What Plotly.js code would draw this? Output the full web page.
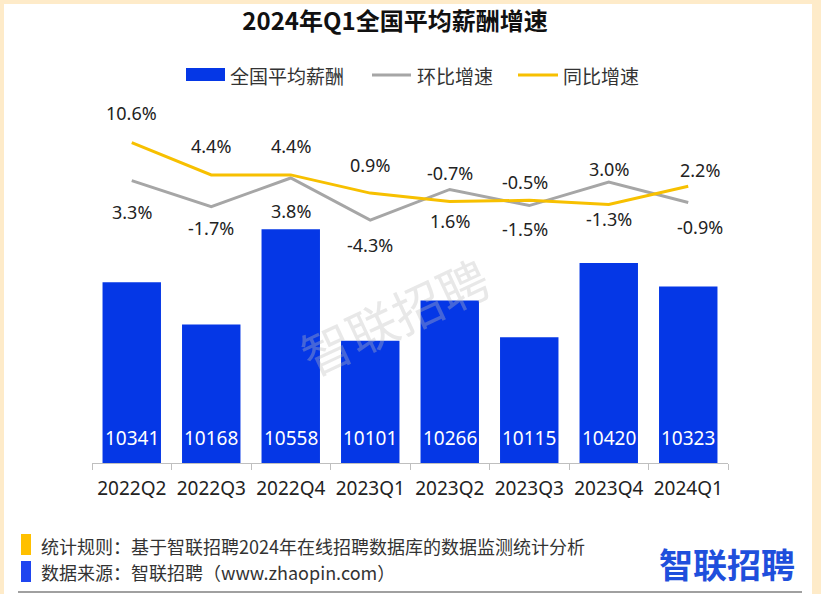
<!DOCTYPE html>
<html>
<head>
<meta charset="utf-8">
<script src="https://cdn.plot.ly/plotly-3.0.1.min.js"></script>
<style>
  html, body { margin:0; padding:0; width:821px; height:594px; overflow:hidden; background:#FEEBC9; }
  #bg { position:absolute; left:4px; top:4px; width:808px; height:590px; background:#ffffff; }
  #chart { position:absolute; left:0; top:0; width:821px; height:594px; }
</style>
</head>
<body>
<div id="bg"></div>
<div id="chart"></div>
<script>
// ---- data ----
const categories = ['2022Q2','2022Q3','2022Q4','2023Q1','2023Q2','2023Q3','2023Q4','2024Q1'];
const salary = [10341, 10168, 10558, 10101, 10266, 10115, 10420, 10323];
const qoq = [3.3, -1.7, 3.8, -4.3, 1.6, -1.5, 3.0, -0.9];   // 环比增速
const yoy = [10.6, 4.4, 4.4, 0.9, -0.7, -0.5, -1.3, 2.2];  // 同比增速

// ---- label placement (style config, pixels) ----
const yoyLabelShift = [30, 29, 29, 28, 28, 18, -14, 16];
const qoqLabelShift = [-31, -21, -33, -25, -32, -23, 13, -25];
const labelXShift = [0, 0, 0, 0, 0, -4, 0, 12];

const BLUE = '#0537E6', GRAY = '#A6A6A6', GOLD = '#F7C000';
const FONT = 'Noto Sans, Noto Sans CJK SC, sans-serif';
const CJK = 'Noto Sans CJK SC, sans-serif';

// plot area in page pixels
const L = 92, R = 728, T = 100, B = 463;
const xp = X => (X - L) / (R - L);
const yp = Y => (B - Y) / (B - T);

const barMin = 9600, barMax = 11088;
const lineMin = -51, lineMax = 18.8;

const traces = [
  { type:'bar', x:categories, y:salary, marker:{color:BLUE}, width:0.735,
    hoverinfo:'skip', name:'全国平均薪酬' },
  { type:'scatter', mode:'lines', x:categories, y:qoq, yaxis:'y2',
    line:{color:GRAY, width:3}, name:'环比增速', hoverinfo:'skip' },
  { type:'scatter', mode:'lines', x:categories, y:yoy, yaxis:'y2',
    line:{color:GOLD, width:3}, name:'同比增速', hoverinfo:'skip' }
];

const annotations = [];
categories.forEach((c, i) => {
  annotations.push({ x:c, y:barMin, xref:'x', yref:'y', text:String(salary[i]),
    showarrow:false, yshift:25, yanchor:'middle', font:{family:FONT, size:19, color:'#ffffff'} });
  annotations.push({ x:c, y:yoy[i], xref:'x', yref:'y2', text:yoy[i].toFixed(1)+'%',
    showarrow:false, yshift:yoyLabelShift[i], xshift:labelXShift[i], yanchor:'middle',
    font:{family:FONT, size:18, color:'#222'} });
  annotations.push({ x:c, y:qoq[i], xref:'x', yref:'y2', text:qoq[i].toFixed(1)+'%',
    showarrow:false, yshift:qoqLabelShift[i], xshift:labelXShift[i], yanchor:'middle',
    font:{family:FONT, size:18, color:'#222'} });
});

// legend texts
[['全国平均薪酬',228],['环比增速',415],['同比增速',561]].forEach(([t, X]) => {
  annotations.push({ xref:'paper', yref:'paper', x:xp(X), y:yp(75), xanchor:'left', yanchor:'middle',
    text:t, showarrow:false, font:{family:CJK, size:19, color:'#333'} });
});

// watermark
annotations.push({ xref:'paper', yref:'paper', x:xp(394), y:yp(315), text:'智联招聘', showarrow:false,
  textangle:-25, font:{family:CJK, size:50, color:'rgba(190,190,190,0.35)'} });

// footer
annotations.push({ xref:'paper', yref:'paper', x:xp(39), y:yp(546), xanchor:'left', yanchor:'middle',
  text:'统计规则：基于智联招聘2024年在线招聘数据库的数据监测统计分析', showarrow:false,
  font:{family:CJK, size:18, color:'#333'} });
annotations.push({ xref:'paper', yref:'paper', x:xp(39), y:yp(572), xanchor:'left', yanchor:'middle',
  text:'数据来源：智联招聘（www.zhaopin.com）', showarrow:false,
  font:{family:CJK, size:18, color:'#333'} });
annotations.push({ xref:'paper', yref:'paper', x:xp(727), y:yp(563), xanchor:'center', yanchor:'middle',
  text:'智联招聘', showarrow:false,
  font:{family:CJK, size:34, color:'#1F4FDC', weight:700} });

const shapes = [
  { type:'rect', xref:'paper', yref:'paper', x0:xp(186), x1:xp(225), y0:yp(68), y1:yp(81),
    fillcolor:BLUE, line:{width:0} },
  { type:'line', xref:'paper', yref:'paper', x0:xp(372), x1:xp(411), y0:yp(75), y1:yp(75),
    line:{color:GRAY, width:3} },
  { type:'line', xref:'paper', yref:'paper', x0:xp(518), x1:xp(558), y0:yp(75), y1:yp(75),
    line:{color:GOLD, width:3} },
  { type:'rect', xref:'paper', yref:'paper', x0:xp(21), x1:xp(31), y0:yp(534), y1:yp(555),
    fillcolor:'#FFC000', line:{width:0} },
  { type:'rect', xref:'paper', yref:'paper', x0:xp(21), x1:xp(31), y0:yp(561), y1:yp(582),
    fillcolor:'#1F45F0', line:{width:0} },
  { type:'line', xref:'paper', yref:'paper', x0:xp(18), x1:xp(802), y0:yp(592), y1:yp(592),
    line:{color:'#A0A0A0', width:2} }
];

const layout = {
  width:821, height:594,
  margin:{l:L, r:821-R, t:T, b:594-B, pad:0},
  paper_bgcolor:'rgba(0,0,0,0)', plot_bgcolor:'rgba(0,0,0,0)',
  showlegend:false,
  title:{ text:'2024年Q1全国平均薪酬增速', xref:'container', yref:'container',
    x:395/821, y:1-22/594, xanchor:'center', yanchor:'middle',
    font:{family:CJK, size:24, color:'#111', weight:700} },
  xaxis:{ type:'category', showline:true, linecolor:'#BFBFBF', linewidth:1,
    ticks:'outside', tickson:'boundaries', ticklen:6, tickcolor:'#BFBFBF', tickwidth:1,
    ticklabelstandoff:8, showgrid:false, zeroline:false,
    tickfont:{family:FONT, size:19, color:'#222'} },
  yaxis:{ range:[barMin, barMax], visible:false, showgrid:false, zeroline:false },
  yaxis2:{ range:[lineMin, lineMax], overlaying:'y', side:'right', visible:false,
    showgrid:false, zeroline:false },
  annotations, shapes
};

Plotly.newPlot('chart', traces, layout, {staticPlot:true, displayModeBar:false});
</script>
</body>
</html>
